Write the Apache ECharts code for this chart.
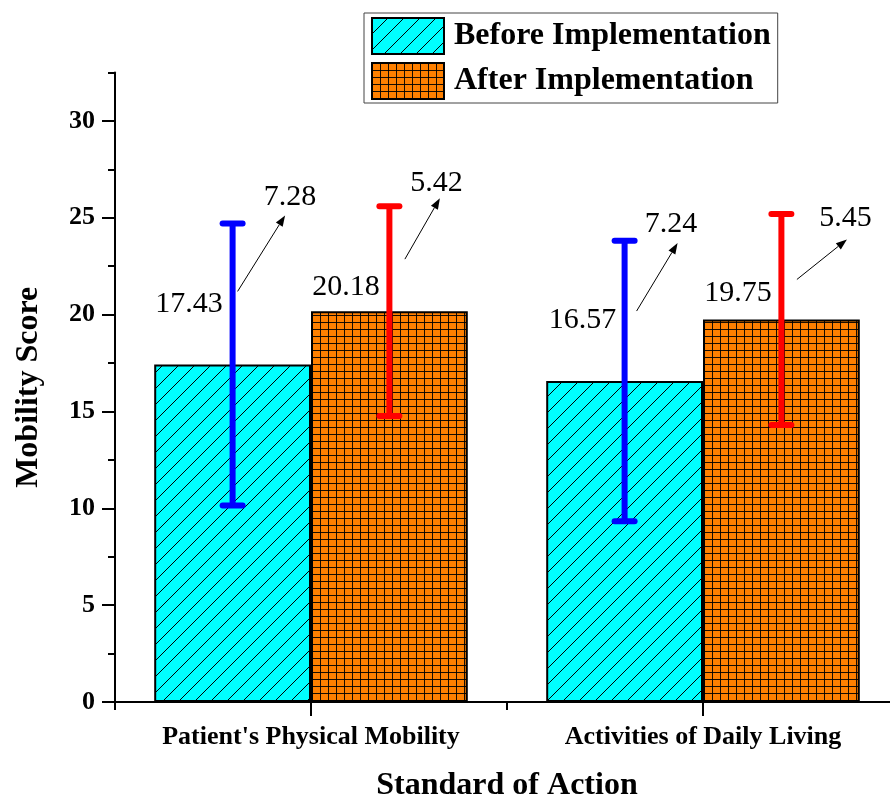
<!DOCTYPE html>
<html>
<head>
<meta charset="utf-8">
<script src="https://cdn.jsdelivr.net/npm/echarts@6/dist/echarts.min.js"></script>
<style>
html,body{margin:0;padding:0;background:#fff;}
#chart{width:890px;height:798px;}
</style>
</head>
<body>
<div id="chart"></div>
<script>
// ---------- data ----------
const categories = ["Patient's Physical Mobility", "Activities of Daily Living"];
const seriesNames = ["Before Implementation", "After Implementation"];
const beforeMean = [17.43, 16.57];
const beforeSD = [7.28, 7.24];
const afterMean = [20.18, 19.75];
const afterSD = [5.42, 5.45];
const yTicks = [0, 5, 10, 15, 20, 25, 30];
const yMinorTicks = [0, 2.5, 5, 7.5, 10, 12.5, 15, 17.5, 20, 22.5, 25, 27.5, 30, 32.5];
const yMin = 0, yMax = 32.5;

// ---------- annotation layout (pixel offsets from bar centre / mean point) ----------
const beforeAnno = [
  {mean: [-43.5, -60], sd: [57.5, -167], from: [5, -73], to: [52.5, -149]},
  {mean: [-42, -61], sd: [46.5, -157], from: [12, -70], to: [53, -138]}
];
const afterAnno = [
  {mean: [-43.5, -24], sd: [47, -128], from: [15.5, -52], to: [50.5, -113]},
  {mean: [-43.5, -26], sd: [64, -101], from: [15.5, -40], to: [65.5, -80]}
];

// ---------- fill patterns ----------
function hatchPattern() {
  const s = 16;
  const c = document.createElement('canvas');
  c.width = s; c.height = s;
  const g = c.getContext('2d');
  g.fillStyle = '#00FFFF';
  g.fillRect(0, 0, s, s);
  g.strokeStyle = '#000';
  g.lineWidth = 1;
  for (const k of [0, s, 2 * s]) {
    g.beginPath();
    g.moveTo(k - s - 1, s + 1);
    g.lineTo(k + 1, -1);
    g.stroke();
  }
  return {image: c, repeat: 'repeat'};
}
function gridPattern() {
  const w = 8, h = 7;
  const c = document.createElement('canvas');
  c.width = w; c.height = h;
  const g = c.getContext('2d');
  g.fillStyle = '#FF8000';
  g.fillRect(0, 0, w, h);
  g.fillStyle = 'rgba(0,0,0,0.9)';
  g.fillRect(0, 0, 1, h);
  g.fillRect(0, 0, w, 1);
  return {image: c, repeat: 'repeat'};
}

const serif = '"Liberation Serif", "Times New Roman", serif';

function makeErrorSeries(name, means, sds, anno, sign, color) {
  return {
    type: 'custom',
    name: name + ' SD',
    coordinateSystem: 'cartesian2d',
    xAxisIndex: 0,
    yAxisIndex: 0,
    z: 10,
    clip: false,
    encode: {x: 0, y: 1},
    data: categories.map((c, i) => [i, means[i], sds[i]]),
    renderItem: function (params, api) {
      const i = api.value(0), m = api.value(1), sd = api.value(2);
      const band = api.size([1, 0])[0];
      const base = api.coord([i, m]);
      const cx = base[0] + sign * band * 0.2;
      const ym = base[1];
      const yt = api.coord([i, m + sd])[1];
      const yb = api.coord([i, m - sd])[1];
      const a = anno[params.dataIndex];
      const capHalf = 10;
      const lw = 6;
      const fx = cx + a.from[0], fy = ym + a.from[1];
      const tx = cx + a.to[0], ty = ym + a.to[1];
      const ang = Math.atan2(ty - fy, tx - fx);
      const hl = 11, hw = 4;
      const bx = tx - hl * Math.cos(ang), by = ty - hl * Math.sin(ang);
      const px = -Math.sin(ang) * hw, py = Math.cos(ang) * hw;
      return {
        type: 'group',
        children: [
          {type: 'line', shape: {x1: cx, y1: yt, x2: cx, y2: yb}, style: {stroke: color, lineWidth: lw}},
          {type: 'line', shape: {x1: cx - capHalf, y1: yt, x2: cx + capHalf, y2: yt}, style: {stroke: color, lineWidth: lw, lineCap: 'round'}},
          {type: 'line', shape: {x1: cx - capHalf, y1: yb, x2: cx + capHalf, y2: yb}, style: {stroke: color, lineWidth: lw, lineCap: 'round'}},
          {type: 'text', x: cx + a.mean[0], y: ym + a.mean[1], style: {text: m.toFixed(2), align: 'center', verticalAlign: 'middle', font: '30px ' + serif, fill: '#000'}},
          {type: 'text', x: cx + a.sd[0], y: ym + a.sd[1], style: {text: sd.toFixed(2), align: 'center', verticalAlign: 'middle', font: '30px ' + serif, fill: '#000'}},
          {type: 'line', shape: {x1: fx, y1: fy, x2: bx, y2: by}, style: {stroke: '#000', lineWidth: 1}},
          {type: 'polygon', shape: {points: [[tx, ty], [bx + px, by + py], [bx - px, by - py]]}, style: {fill: '#000'}}
        ]
      };
    }
  };
}

const chart = echarts.init(document.getElementById('chart'), null, {renderer: 'canvas'});
const tickStyle = {color: '#000', width: 2};
const option = {
  backgroundColor: '#fff',
  animation: false,
  grid: {left: 115, right: -9, top: 72.5, bottom: 96, containLabel: false, outerBoundsMode: 'none'},
  legend: {
    orient: 'vertical',
    left: 364,
    top: 13,
    data: seriesNames,
    icon: 'rect',
    itemWidth: 72,
    itemHeight: 36,
    itemGap: 7,
    padding: [4, 7, 3, 7],
    borderColor: '#444',
    borderWidth: 1,
    itemStyle: {borderColor: '#000', borderWidth: 2},
    textStyle: {fontFamily: serif, fontWeight: 'bold', fontSize: 32, color: '#000', padding: [0, 0, 0, 5]}
  },
  xAxis: [
    {
      type: 'category',
      data: categories,
      position: 'bottom',
      name: 'Standard of Action',
      nameLocation: 'middle',
      nameGap: 68,
      nameTextStyle: {fontFamily: serif, fontWeight: 'bold', fontSize: 32, color: '#000'},
      axisLine: {show: true, lineStyle: tickStyle},
      axisTick: {show: true, alignWithLabel: false, length: 8, lineStyle: tickStyle},
      axisLabel: {fontFamily: serif, fontWeight: 'bold', fontSize: 26, color: '#000', margin: 22},
      splitLine: {show: false}
    },
    {
      type: 'category',
      data: categories,
      position: 'bottom',
      axisLine: {show: false},
      axisTick: {show: true, alignWithLabel: true, length: 14, lineStyle: tickStyle},
      axisLabel: {show: false},
      splitLine: {show: false}
    }
  ],
  yAxis: [
    {
      type: 'value',
      min: yMin,
      max: yMax,
      position: 'left',
      name: 'Mobility Score',
      nameLocation: 'middle',
      nameGap: 70,
      nameTextStyle: {fontFamily: serif, fontWeight: 'bold', fontSize: 32, color: '#000'},
      axisLine: {show: true, lineStyle: tickStyle},
      axisTick: {show: true, customValues: yMinorTicks, length: 7, lineStyle: tickStyle},
      axisLabel: {show: false},
      splitLine: {show: false}
    },
    {
      type: 'value',
      min: yMin,
      max: yMax,
      position: 'left',
      axisLine: {show: false},
      axisTick: {show: true, customValues: yTicks, length: 13, lineStyle: tickStyle},
      axisLabel: {show: true, customValues: yTicks, fontFamily: serif, fontWeight: 'bold', fontSize: 26, color: '#000', margin: 20},
      splitLine: {show: false}
    }
  ],
  series: [
    {
      type: 'bar',
      name: seriesNames[0],
      xAxisIndex: 0,
      yAxisIndex: 0,
      data: beforeMean,
      barGap: '0%',
      barCategoryGap: '20%',
      itemStyle: {color: hatchPattern(), borderColor: '#000', borderWidth: 2}
    },
    {
      type: 'bar',
      name: seriesNames[1],
      xAxisIndex: 0,
      yAxisIndex: 0,
      data: afterMean,
      barGap: '0%',
      barCategoryGap: '20%',
      itemStyle: {color: gridPattern(), borderColor: '#000', borderWidth: 2}
    },
    makeErrorSeries(seriesNames[0], beforeMean, beforeSD, beforeAnno, -1, '#0000FF'),
    makeErrorSeries(seriesNames[1], afterMean, afterSD, afterAnno, 1, '#FF0000')
  ]
};
chart.setOption(option);
</script>
</body>
</html>
